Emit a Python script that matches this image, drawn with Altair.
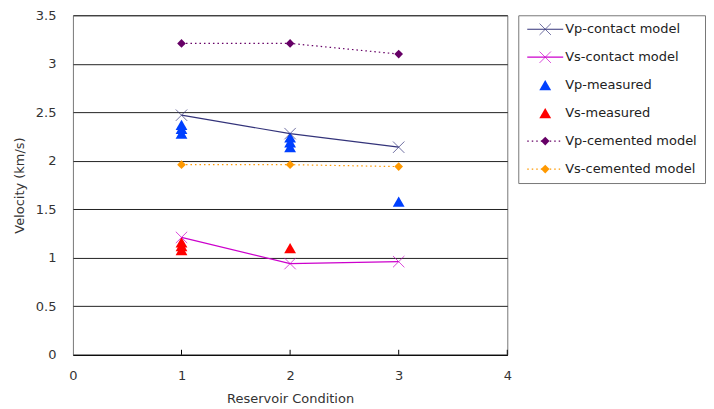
import altair as alt
import pandas as pd

# ---- data ----
conditions = [1, 2, 3]
vp_contact = [2.47, 2.28, 2.14]
vs_contact = [1.21, 0.94, 0.96]
vp_cemented = [3.21, 3.21, 3.10]
vs_cemented = [1.96, 1.96, 1.94]
vp_meas_x = [1, 1, 1, 2, 2, 2, 3]
vp_meas = [2.37, 2.33, 2.28, 2.24, 2.19, 2.14, 1.58]
vs_meas_x = [1, 1, 1, 2]
vs_meas = [1.16, 1.12, 1.08, 1.10]

series = ["Vp-contact model", "Vs-contact model", "Vp-measured",
          "Vs-measured", "Vp-cemented model", "Vs-cemented model"]
colors = ["#33337A", "#CC00CC", "#0040FF", "#FF0000", "#660066", "#FF9900"]
x_ticks = [0, 1, 2, 3, 4]
y_ticks = [0, 0.5, 1, 1.5, 2, 2.5, 3, 3.5]

FONT = "DejaVu Sans"
XPATH = "M-1,-1L1,1M-1,1L1,-1"

rows = []
for name, vals in [(series[0], vp_contact), (series[1], vs_contact),
                   (series[4], vp_cemented), (series[5], vs_cemented)]:
    for c, v in zip(conditions, vals):
        rows.append({"condition": c, "velocity": v, "series": name})
model_df = pd.DataFrame(rows)

mrows = []
for c, v in zip(vp_meas_x, vp_meas):
    mrows.append({"condition": c, "velocity": v, "series": series[2]})
for c, v in zip(vs_meas_x, vs_meas):
    mrows.append({"condition": c, "velocity": v, "series": series[3]})
meas_df = pd.DataFrame(mrows)

color_scale = alt.Scale(domain=series, range=colors)
col = alt.Color("series:N", scale=color_scale, legend=None)

x_enc = alt.X("condition:Q", scale=alt.Scale(domain=[0, 4], nice=False),
              axis=alt.Axis(values=x_ticks, title="Reservoir Condition", grid=False,
                            ticks=False, labelPadding=15, titlePadding=10, labelFlush=False,
                            domainColor="#000", labelExpr="datum.value"))
y_enc = alt.Y("velocity:Q", scale=alt.Scale(domain=[0, 3.5], nice=False),
              axis=alt.Axis(values=y_ticks, title="Velocity (km/s)", grid=True,
                            gridColor="#222", gridWidth=1, ticks=False, domain=False,
                            labelFlush=False,
                            labelPadding=17, titlePadding=9, labelExpr="datum.value"))

solid = alt.Chart(model_df).transform_filter(
    alt.FieldOneOfPredicate(field="series", oneOf=[series[0], series[1]])
)
dotted = alt.Chart(model_df).transform_filter(
    alt.FieldOneOfPredicate(field="series", oneOf=[series[4], series[5]])
)

TRI = 140
DIA = 75
XS = 130

solid_lines = solid.mark_line(strokeWidth=1.2).encode(x=x_enc, y=y_enc, color=col, detail="series:N")
solid_pts = solid.mark_point(shape=XPATH, size=XS, filled=False, strokeWidth=1).encode(
    x="condition:Q", y="velocity:Q", color=col)
dotted_lines = dotted.mark_line(strokeWidth=1.2, strokeDash=[1.5, 3]).encode(
    x="condition:Q", y="velocity:Q", color=col, detail="series:N")
dotted_pts = dotted.mark_point(shape="diamond", size=DIA, filled=True, opacity=1).encode(
    x="condition:Q", y="velocity:Q", color=col)
meas_pts = alt.Chart(meas_df).mark_point(shape="triangle-up", size=TRI, filled=True, opacity=1).encode(
    x="condition:Q", y="velocity:Q", color=col)

tick_df = pd.DataFrame({"t": x_ticks[1:]})
inner_ticks = alt.Chart(tick_df).mark_rule(color="#000", strokeWidth=1).encode(
    x="t:Q", y=alt.value(340), y2=alt.value(335))

main = alt.layer(dotted_lines, solid_lines, meas_pts, dotted_pts, solid_pts, inner_ticks).properties(
    width=435, height=340)

# ---- legend panel ----
leg_df = pd.DataFrame({"series": series,
                       "kind": ["x", "x", "tri", "tri", "dia", "dia"]})
ly = alt.Y("series:N", scale=alt.Scale(domain=series, type="point", padding=0.5), axis=None)
lbase = alt.Chart(leg_df)
leg_solid = lbase.transform_filter(alt.datum.kind == "x").mark_rule(strokeWidth=1.2).encode(
    x=alt.value(9), x2=alt.value(45), y=ly, color=col)
leg_dot = lbase.transform_filter(alt.datum.kind == "dia").mark_rule(strokeWidth=1.2, strokeDash=[1.5, 3]).encode(
    x=alt.value(9), x2=alt.value(45), y=ly, color=col)
leg_x = lbase.transform_filter(alt.datum.kind == "x").mark_point(shape=XPATH, size=XS, filled=False, strokeWidth=1).encode(
    x=alt.value(27), y=ly, color=col)
leg_tri = lbase.transform_filter(alt.datum.kind == "tri").mark_point(shape="triangle-up", size=TRI, filled=True, opacity=1).encode(
    x=alt.value(27), y=ly, color=col)
leg_dia = lbase.transform_filter(alt.datum.kind == "dia").mark_point(shape="diamond", size=DIA, filled=True, opacity=1).encode(
    x=alt.value(27), y=ly, color=col)
leg_text = lbase.mark_text(align="left", baseline="middle", font=FONT, fontSize=13, color="#222").encode(
    x=alt.value(47), y=ly, text="series:N")

legend = alt.layer(leg_solid, leg_dot, leg_x, leg_tri, leg_dia, leg_text).properties(
    width=187, height=168)

chart = alt.hconcat(main, legend, spacing=11, bounds="flush").properties(
    padding={"left": 4, "top": 0, "right": 0, "bottom": 0}
).configure_view(
    stroke="#777", strokeWidth=1
).configure_axis(
    labelFont=FONT, titleFont=FONT, labelFontSize=13, titleFontSize=13,
    labelColor="#333", titleColor="#333", titleFontWeight="normal"
)

chart.save("out.html", embed_options={"renderer": "svg", "actions": False})
